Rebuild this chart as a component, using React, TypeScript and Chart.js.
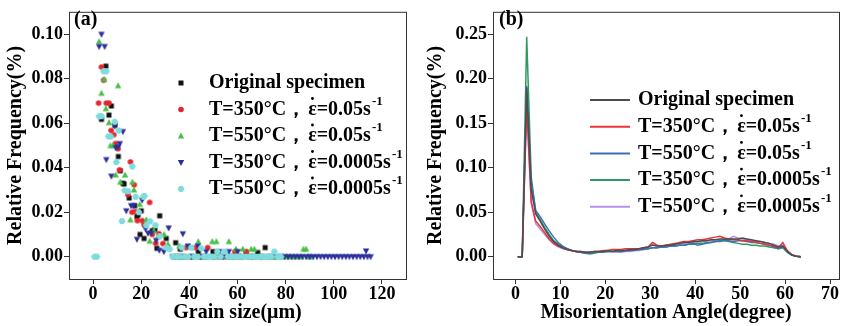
import React, { useEffect, useRef } from 'react';
import { Chart, registerables } from 'chart.js';

Chart.register(...registerables);

const FONT = '"Liberation Serif", "Times New Roman", serif';

// ---------- shared legend text ----------
const SERIES_NAMES = ['Original specimen', 'T=350°C', 'T=550°C', 'T=350°C', 'T=550°C'];
const STRAIN_RATES = ['', '0.05', '0.05', '0.0005', '0.0005'];

// ---------- panel (a): grain size ----------
const GRAIN_X_TICKS = [0, 20, 40, 60, 80, 100, 120];
const GRAIN_Y_TICKS = [0, 0.02, 0.04, 0.06, 0.08, 0.1];

const ORIG_X = [3.5, 5.3, 6.6, 7.6, 9.1, 10.5, 11.3, 12.4, 12.9, 15.0, 17.3, 18.2, 18.7, 19.5, 20.0, 21.2, 24.6, 25.7, 26.5, 27.7, 30.4, 34.3, 36.2, 43.7, 49.8, 63.6, 68.4, 71.5];
const ORIG_Y = [0.0617, 0.0856, 0.0636, 0.0677, 0.0590, 0.0450, 0.0386, 0.0330, 0.0327, 0.0264, 0.0229, 0.0180, 0.0188, 0.0100, 0.0206, 0.0082, 0.0117, 0.0122, 0.0038, 0.0184, 0.0082, 0.0063, 0.0034, 0.0023, 0.0023, 0.0019, 0.0019, 0.0041];
const ORIG_ZERO_X = [35, 38, 41, 44.5, 47, 50.5, 53, 55.5, 57, 59, 61, 65, 67, 70, 73, 75];

const R350F_X = [2.3, 3.5, 4.4, 5.5, 6.6, 7.5, 8.6, 9.3, 10.4, 11.0, 14.5, 15.5, 16.2, 17.1, 17.6, 18.4, 20.4, 21.2, 23.5, 24.6, 26.0, 27.4, 29.0, 31.0, 38.7, 42.6, 47.6, 58.9, 63.6];
const R350F_Y = [0.0690, 0.0852, 0.0793, 0.0690, 0.0690, 0.0567, 0.0548, 0.0508, 0.0485, 0.0390, 0.0279, 0.0426, 0.0200, 0.0323, 0.0203, 0.0162, 0.0162, 0.0144, 0.0244, 0.0100, 0.0060, 0.0103, 0.0059, 0.0040, 0.0041, 0.0041, 0.0041, 0.0023, 0.0023];
const R350F_ZERO_X = [34.1, 35.5, 37, 40, 44, 46, 50, 53, 56, 61, 66];

const R550F_X = [2.5, 3.5, 4.6, 5.3, 6.6, 7.2, 8.3, 9.4, 10.4, 11.3, 13.3, 15.5, 16.3, 17.0, 19.4, 22.1, 23.5, 25.2, 27.0, 29.5, 31.1, 35.9, 40.0, 43.7, 49.5, 51.2, 56.4, 59.4, 62.2, 65.7, 67.0, 87.4, 88.5];
const R550F_Y = [0.0966, 0.0734, 0.0797, 0.0665, 0.0602, 0.0499, 0.0499, 0.0367, 0.0768, 0.0335, 0.0367, 0.0166, 0.0335, 0.0300, 0.0235, 0.0166, 0.0070, 0.0117, 0.0091, 0.0100, 0.0056, 0.0048, 0.0045, 0.0068, 0.0068, 0.0068, 0.0068, 0.0034, 0.0034, 0.0034, 0.0034, 0.0034, 0.0034];
const R550F_ZERO_X = [34, 36.5, 38, 41.5, 45, 47, 53, 58, 61, 64, 69, 72, 75, 77.5, 79, 80.5, 82, 83.5, 85, 86.5, 89.5, 90.5];

const R350S_X = [2.5, 3.5, 4.8, 5.5, 7.6, 9.0, 9.4, 10.4, 11.1, 12.4, 13.8, 15.8, 16.8, 18.2, 20.4, 21.8, 22.8, 24.2, 26.2, 27.5, 29.4, 31.4, 37.3, 39.4, 43.5, 47.0, 52.5, 56.4, 60.1, 113.4];
const R350S_Y = [0.0944, 0.0999, 0.0944, 0.0436, 0.0362, 0.0587, 0.0489, 0.0493, 0.0508, 0.0562, 0.0206, 0.0229, 0.0229, 0.0078, 0.0254, 0.0125, 0.0106, 0.0106, 0.0073, 0.0029, 0.0023, 0.0129, 0.0103, 0.0048, 0.0048, 0.0023, 0.0023, 0.0023, 0.0023, 0.0026];
const R350S_ZERO_X = [33, 36, 41, 45, 50, 54, 58, 62, 66, 70, 74, 76, 78, 79.5, 81, 82.5, 84, 85.5, 87, 88.5, 90, 91.5, 93, 94.5, 96, 97.5, 99, 100.5, 102, 103.5, 105, 106.5, 108, 109.5, 111, 112.5, 114, 115.3];

const R550S_X = [2.5, 3.5, 4.4, 5.5, 6.4, 7.3, 9.0, 9.7, 10.6, 12.0, 13.1, 14.5, 16.3, 17.7, 19.0, 20.9, 21.3, 22.1, 23.7, 25.9, 27.7, 30.4, 31.8, 36.8, 40.8, 44.9, 51.6, 54.6, 75.3];
const R550S_Y = [0.0631, 0.0631, 0.0833, 0.0833, 0.0540, 0.0540, 0.0606, 0.0425, 0.0567, 0.0160, 0.0298, 0.0294, 0.0405, 0.0269, 0.0200, 0.0269, 0.0273, 0.0141, 0.0159, 0.0141, 0.0092, 0.0041, 0.0034, 0.0041, 0.0041, 0.0038, 0.0023, 0.0023, 0.0023];
const R550S_ZERO_X = [0.6, 1.6, 33, 34.5, 36, 38, 39.5, 42, 43.5, 46, 47.5, 49, 50.5, 53, 56, 57.5, 59, 60.5, 62, 63.5, 65, 66.5, 68, 69.5, 71, 72.5, 74, 76.5, 78];

// ---------- panel (b): misorientation angle ----------
const ANGLE_X_TICKS = [0, 10, 20, 30, 40, 50, 60, 70];
const ANGLE_Y_TICKS = [0, 0.05, 0.1, 0.15, 0.2, 0.25];
const ANGLES = [0.5, 1.5, 2.5, 3.5, 4.5, 5.5, 6.5, 7.5, 8.5, 9.5, 10.5, 11.5, 12.5, 13.5, 14.5, 15.5, 16.5, 17.5, 18.5, 19.5, 20.5, 21.5, 22.5, 23.5, 24.5, 25.5, 26.5, 27.5, 28.5, 29.5, 30.5, 31.5, 32.5, 33.5, 34.5, 35.5, 36.5, 37.5, 38.5, 39.5, 40.5, 41.5, 42.5, 43.5, 44.5, 45.5, 46.5, 47.5, 48.5, 49.5, 50.5, 51.5, 52.5, 53.5, 54.5, 55.5, 56.5, 57.5, 58.5, 59.5, 60.5, 61.5, 62.5, 63.5];
const MIS_ORIG = [0, 0, 0.190, 0.075, 0.048, 0.040, 0.031, 0.023, 0.017, 0.013, 0.010, 0.008, 0.007, 0.006, 0.006, 0.005, 0.005, 0.006, 0.006, 0.006, 0.007, 0.006, 0.007, 0.007, 0.007, 0.008, 0.008, 0.009, 0.010, 0.011, 0.013, 0.012, 0.012, 0.013, 0.013, 0.014, 0.015, 0.016, 0.016, 0.017, 0.017, 0.018, 0.018, 0.019, 0.019, 0.020, 0.020, 0.020, 0.020, 0.020, 0.021, 0.020, 0.019, 0.018, 0.017, 0.016, 0.015, 0.013, 0.011, 0.012, 0.006, 0.002, 0.0005, 0];
const MIS_R350F = [0, 0, 0.172, 0.062, 0.040, 0.034, 0.027, 0.020, 0.015, 0.012, 0.010, 0.008, 0.007, 0.006, 0.006, 0.005, 0.005, 0.006, 0.006, 0.007, 0.007, 0.008, 0.008, 0.008, 0.009, 0.009, 0.009, 0.009, 0.010, 0.011, 0.016, 0.013, 0.012, 0.013, 0.014, 0.015, 0.016, 0.017, 0.017, 0.018, 0.019, 0.019, 0.020, 0.021, 0.022, 0.023, 0.021, 0.020, 0.019, 0.019, 0.018, 0.018, 0.017, 0.016, 0.015, 0.014, 0.013, 0.012, 0.010, 0.016, 0.007, 0.002, 0.0005, 0];
const MIS_R550F = [0, 0, 0.192, 0.085, 0.052, 0.045, 0.037, 0.029, 0.022, 0.016, 0.012, 0.009, 0.007, 0.006, 0.005, 0.004, 0.004, 0.005, 0.005, 0.006, 0.006, 0.006, 0.006, 0.006, 0.007, 0.007, 0.007, 0.008, 0.008, 0.009, 0.010, 0.010, 0.011, 0.011, 0.012, 0.012, 0.013, 0.013, 0.014, 0.015, 0.013, 0.014, 0.015, 0.016, 0.017, 0.018, 0.019, 0.018, 0.017, 0.018, 0.018, 0.017, 0.016, 0.016, 0.015, 0.014, 0.013, 0.011, 0.009, 0.011, 0.006, 0.002, 0.0005, 0];
const MIS_R350S = [0, 0, 0.247, 0.090, 0.050, 0.042, 0.033, 0.025, 0.018, 0.014, 0.011, 0.009, 0.007, 0.006, 0.005, 0.004, 0.003, 0.004, 0.005, 0.005, 0.006, 0.006, 0.006, 0.006, 0.007, 0.007, 0.008, 0.008, 0.009, 0.009, 0.010, 0.010, 0.011, 0.011, 0.012, 0.012, 0.013, 0.013, 0.014, 0.014, 0.015, 0.015, 0.016, 0.016, 0.017, 0.017, 0.018, 0.017, 0.016, 0.015, 0.014, 0.014, 0.013, 0.013, 0.012, 0.012, 0.011, 0.010, 0.009, 0.010, 0.005, 0.002, 0.0005, 0];
const MIS_R550S = [0, 0, 0.165, 0.060, 0.037, 0.031, 0.025, 0.019, 0.014, 0.011, 0.009, 0.008, 0.007, 0.006, 0.005, 0.005, 0.005, 0.005, 0.006, 0.006, 0.006, 0.006, 0.006, 0.005, 0.006, 0.006, 0.007, 0.007, 0.008, 0.010, 0.014, 0.012, 0.011, 0.012, 0.013, 0.013, 0.014, 0.015, 0.016, 0.016, 0.017, 0.017, 0.018, 0.018, 0.019, 0.019, 0.019, 0.020, 0.023, 0.021, 0.020, 0.019, 0.018, 0.017, 0.017, 0.016, 0.015, 0.014, 0.012, 0.013, 0.006, 0.002, 0.0005, 0];

const SCATTER_COLORS = ['#111111', '#e4262b', '#46c046', '#2b2f9c', '#7fdcdc'];
const SCATTER_STYLES = ['rect', 'circle', 'triangle', 'invTriangle', 'diamond'];
const LINE_COLORS = ['#4d4d4d', '#e8343a', '#3d6fb6', '#2e9a62', '#b692e4'];

// ---------- helpers ----------
function pts(xs: number[], ys: number[], zeros: number[]) {
  return xs.map((x, i) => ({ x, y: ys[i] })).concat(zeros.map((x) => ({ x, y: 0 })));
}

function drawMarker(ctx: CanvasRenderingContext2D, style: string, x: number, y: number, color: string) {
  ctx.fillStyle = color;
  ctx.beginPath();
  if (style === 'rect') {
    ctx.rect(x - 2.5, y - 2.5, 5, 5);
  } else if (style === 'circle') {
    ctx.arc(x, y, 2.8, 0, Math.PI * 2);
  } else if (style === 'triangle') {
    ctx.moveTo(x, y - 3.4);
    ctx.lineTo(x + 3.2, y + 2.4);
    ctx.lineTo(x - 3.2, y + 2.4);
  } else if (style === 'invTriangle') {
    ctx.moveTo(x, y + 3.4);
    ctx.lineTo(x + 3.2, y - 2.4);
    ctx.lineTo(x - 3.2, y - 2.4);
  } else {
    ctx.moveTo(x - 3.6, y);
    ctx.lineTo(x - 1.6, y - 3);
    ctx.lineTo(x + 1.6, y - 3);
    ctx.lineTo(x + 3.6, y);
    ctx.lineTo(x + 1.6, y + 3);
    ctx.lineTo(x - 1.6, y + 3);
  }
  ctx.closePath();
  ctx.fill();
}

function makeMarkerCanvas(style: string, color: string) {
  const c = document.createElement('canvas');
  c.width = 10;
  c.height = 10;
  const ctx = c.getContext('2d') as CanvasRenderingContext2D;
  drawMarker(ctx, style, 5, 5, color);
  return c;
}

function drawLegendText(ctx: CanvasRenderingContext2D, name: string, rate: string, x: number, y: number) {
  ctx.font = `bold 20px ${FONT}`;
  ctx.textBaseline = 'middle';
  ctx.textAlign = 'left';
  ctx.fillStyle = '#000';
  if (!rate) {
    ctx.fillText(name, x, y);
    return;
  }
  const head = name + '，';
  ctx.fillText(head, x, y);
  let cx = x + ctx.measureText(head).width + 2;
  ctx.fillText('ε', cx, y);
  const ew = ctx.measureText('ε').width;
  ctx.beginPath();
  ctx.arc(cx + ew / 2, y - 11, 1.4, 0, Math.PI * 2);
  ctx.fill();
  cx += ew;
  const body = '=' + rate + 's';
  ctx.fillText(body, cx, y);
  cx += ctx.measureText(body).width;
  ctx.font = `bold 13px ${FONT}`;
  ctx.fillText('-1', cx + 1, y - 8);
}

const framePlugin = {
  id: 'frame',
  beforeDatasetsDraw(chart: any) {
    const { ctx, chartArea: a } = chart;
    ctx.save();
    ctx.strokeStyle = '#333';
    ctx.lineWidth = 1;
    ctx.strokeRect(a.left + 0.5, a.top + 0.5, a.right - a.left, a.bottom - a.top);
    ctx.restore();
  },
};

const legendPlugin = {
  id: 'customLegend',
  afterDraw(chart: any, _args: any, opts: any) {
    const ctx = chart.ctx as CanvasRenderingContext2D;
    ctx.save();
    SERIES_NAMES.forEach((name, i) => {
      const y = opts.y0 + i * opts.dy;
      if (opts.kind === 'marker') {
        drawMarker(ctx, SCATTER_STYLES[i], opts.symX, y, SCATTER_COLORS[i]);
      } else {
        ctx.strokeStyle = LINE_COLORS[i];
        ctx.lineWidth = 2;
        ctx.beginPath();
        ctx.moveTo(opts.symX, y);
        ctx.lineTo(opts.symX2, y);
        ctx.stroke();
      }
      drawLegendText(ctx, name, STRAIN_RATES[i], opts.textX, y);
    });
    ctx.font = `bold 20px ${FONT}`;
    ctx.fillStyle = '#000';
    ctx.textBaseline = 'middle';
    ctx.fillText(opts.panel, opts.panelX, 20);
    ctx.restore();
  },
};

function axis(min: number, max: number, ticks: number[], digits: number, title: string, isX: boolean, size: number, titlePad: any) {
  return {
    type: 'linear',
    min,
    max,
    afterBuildTicks: (s: any) => {
      s.ticks = ticks.map((v) => ({ value: v }));
    },
    afterFit: (s: any) => {
      if (isX) s.height = size;
      else s.width = size;
    },
    grid: { drawOnChartArea: false, drawTicks: true, tickLength: 5, color: '#333', lineWidth: 1 },
    border: { display: false },
    ticks: {
      color: '#000',
      font: { family: FONT, size: 18, weight: 'bold' },
      padding: isX ? 0 : 1,
      maxRotation: 0,
      autoSkip: false,
      callback: (v: any) => Number(v).toFixed(digits),
    },
    title: {
      display: true,
      text: title,
      color: '#000',
      font: { family: FONT, size: 20, weight: 'bold', lineHeight: 1.2 },
      padding: titlePad,
    },
  };
}

function GrainChart() {
  const ref = useRef<HTMLCanvasElement>(null);
  useEffect(() => {
    const sets = [
      pts(ORIG_X, ORIG_Y, ORIG_ZERO_X),
      pts(R350F_X, R350F_Y, R350F_ZERO_X),
      pts(R550F_X, R550F_Y, R550F_ZERO_X),
      pts(R350S_X, R350S_Y, R350S_ZERO_X),
      pts(R550S_X, R550S_Y, R550S_ZERO_X),
    ];
    const chart = new Chart(ref.current as HTMLCanvasElement, {
      type: 'scatter',
      data: {
        datasets: sets.map((data, i) => ({
          label: SERIES_NAMES[i],
          data,
          pointStyle: makeMarkerCanvas(SCATTER_STYLES[i], SCATTER_COLORS[i]) as any,
          backgroundColor: SCATTER_COLORS[i],
          borderColor: SCATTER_COLORS[i],
          pointRadius: 5,
          order: i === 0 ? 10 : 5 - i,
        })),
      },
      options: {
        responsive: false,
        animation: false,
        devicePixelRatio: 1,
        layout: { padding: { top: 5, right: 16, left: 0, bottom: 0 } },
        plugins: {
          legend: { display: false },
          tooltip: { enabled: false },
          customLegend: { kind: 'marker', symX: 181, textX: 209, y0: 83, dy: 26.5, panel: '(a)', panelX: 74 },
        } as any,
        scales: {
          x: axis(-10, 130, GRAIN_X_TICKS, 0, 'Grain size(μm)', true, 47, { top: 0, bottom: 1 }),
          y: axis(-0.01, 0.11, GRAIN_Y_TICKS, 2, 'Relative Frequency(%)', false, 69, { top: 4, bottom: 0 }),
        } as any,
      },
      plugins: [framePlugin, legendPlugin],
    });
    return () => chart.destroy();
  }, []);
  return <canvas ref={ref} width={422} height={326} style={{ position: 'absolute', left: 0, top: 0, width: 422, height: 326 }} />;
}

function AngleChart() {
  const ref = useRef<HTMLCanvasElement>(null);
  useEffect(() => {
    const series = [MIS_ORIG, MIS_R350F, MIS_R550F, MIS_R350S, MIS_R550S];
    const chart = new Chart(ref.current as HTMLCanvasElement, {
      type: 'line',
      data: {
        datasets: series.map((ys, i) => ({
          label: SERIES_NAMES[i],
          data: ANGLES.map((x, j) => ({ x, y: ys[j] })),
          borderColor: LINE_COLORS[i],
          backgroundColor: LINE_COLORS[i],
          borderWidth: 1.5,
          pointRadius: 0,
          tension: 0,
          fill: false,
        })),
      },
      options: {
        responsive: false,
        animation: false,
        devicePixelRatio: 1,
        layout: { padding: { top: 5, right: 5, left: 0, bottom: 0 } },
        plugins: {
          legend: { display: false },
          tooltip: { enabled: false },
          customLegend: { kind: 'line', symX: 168, symX2: 208, textX: 216, y0: 100, dy: 26.7, panel: '(b)', panelX: 77 },
        } as any,
        scales: {
          x: axis(-5, 72, ANGLE_X_TICKS, 0, 'Misorientation Angle(degree)', true, 47, { top: 0, bottom: 1 }),
          y: axis(-0.025, 0.275, ANGLE_Y_TICKS, 2, 'Relative Frequency(%)', false, 71, { top: 2, bottom: 0 }),
        } as any,
      },
      plugins: [framePlugin, legendPlugin],
    });
    return () => chart.destroy();
  }, []);
  return <canvas ref={ref} width={422} height={326} style={{ position: 'absolute', left: 422, top: 0, width: 422, height: 326 }} />;
}

export default function App() {
  return (
    <div style={{ position: 'fixed', left: 0, top: 0, width: 844, height: 326, background: '#fff', overflow: 'hidden' }}>
      <GrainChart />
      <AngleChart />
    </div>
  );
}
